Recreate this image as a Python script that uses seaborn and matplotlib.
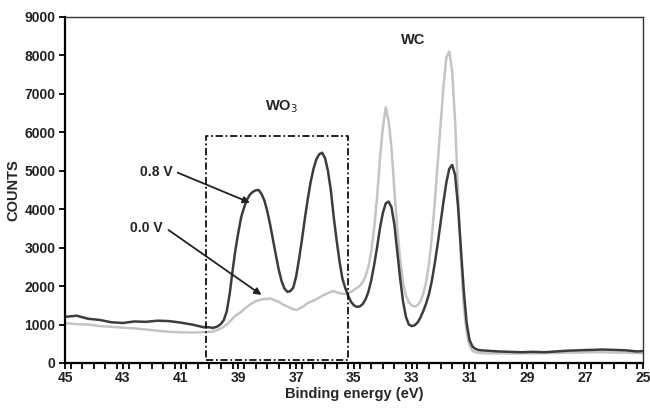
import numpy as np
import pandas as pd
import matplotlib
matplotlib.use("Agg")
import matplotlib.pyplot as plt
import seaborn as sns
from matplotlib.ticker import FixedLocator, MultipleLocator

energy_left = [45.0, 44.6, 44.2, 43.8, 43.4, 43.0, 42.6, 42.2, 41.8, 41.4, 41.0, 40.6, 40.2]
energy_mid = [40.0, 39.9, 39.8, 39.7, 39.6, 39.5, 39.4, 39.3, 39.2, 39.1,
              39.0, 38.9, 38.8, 38.7, 38.6, 38.5, 38.4, 38.3, 38.2, 38.1,
              38.0, 37.9, 37.8, 37.7, 37.6, 37.5, 37.4, 37.3, 37.2, 37.1,
              37.0, 36.9, 36.8, 36.7, 36.6, 36.5, 36.4, 36.3, 36.2, 36.1,
              36.0, 35.9, 35.8, 35.7, 35.6, 35.5, 35.4, 35.3, 35.2, 35.1,
              35.0, 34.9, 34.8, 34.7, 34.6, 34.5, 34.4, 34.3, 34.2, 34.1,
              34.0, 33.9, 33.8, 33.7, 33.6, 33.5, 33.4, 33.3, 33.2, 33.1,
              33.0, 32.9, 32.8, 32.7, 32.6, 32.5, 32.4, 32.3, 32.2, 32.1,
              32.0, 31.9, 31.8, 31.7, 31.6, 31.5, 31.4, 31.3, 31.2, 31.1,
              31.0, 30.9, 30.8, 30.7, 30.6]
energy_right = [30.4, 30.0, 29.6, 29.2, 28.8, 28.4, 28.0, 27.6, 27.2, 26.8, 26.4, 26.0, 25.6, 25.2, 25.0]

counts_08V_left = [1200, 1230, 1150, 1120, 1060, 1040, 1080, 1070, 1100, 1090, 1050, 1000, 930]
counts_08V_mid = [930, 910, 930, 960, 1020, 1120, 1350, 1800, 2400, 2950,
                  3400, 3800, 4050, 4250, 4380, 4450, 4490, 4500, 4400, 4230,
                  3950, 3600, 3200, 2800, 2420, 2120, 1930, 1850, 1870, 1960,
                  2250, 2700, 3200, 3750, 4250, 4700, 5050, 5300, 5430, 5470,
                  5330, 5000, 4500, 3800, 3200, 2650, 2200, 1950, 1750, 1590,
                  1500, 1460, 1470, 1530, 1650, 1850, 2150, 2550, 3000, 3500,
                  3900, 4150, 4200, 4050, 3600, 2900, 2200, 1600, 1200, 1000,
                  960, 980, 1050, 1180, 1350, 1550, 1800, 2150, 2600, 3100,
                  3650, 4200, 4700, 5050, 5150, 4900, 4100, 3000, 1900, 1050,
                  600, 430, 370, 340, 330]
counts_08V_right = [320, 300, 290, 280, 290, 280, 300, 320, 330, 340, 350, 340, 330, 300, 310]

counts_00V_left = [1040, 1010, 1000, 960, 940, 920, 900, 870, 840, 810, 800, 790, 800]
counts_00V_mid = [810, 815, 840, 870, 900, 950, 1000, 1080, 1150, 1230,
                  1280, 1330, 1400, 1460, 1520, 1560, 1610, 1630, 1650, 1670,
                  1660, 1680, 1650, 1620, 1590, 1540, 1500, 1470, 1430, 1400,
                  1380, 1410, 1450, 1500, 1560, 1590, 1620, 1660, 1700, 1750,
                  1780, 1820, 1850, 1870, 1840, 1820, 1800, 1800, 1810, 1850,
                  1900, 1950, 2000, 2100, 2250, 2500, 2900, 3500, 4300, 5300,
                  6100, 6650, 6300, 5600, 4500, 3500, 2700, 2100, 1750, 1580,
                  1500, 1470, 1500, 1600, 1800, 2100, 2600, 3300, 4200, 5200,
                  6200, 7200, 7950, 8100, 7600, 6300, 4500, 2800, 1500, 800,
                  450, 320, 280, 270, 260]
counts_00V_right = [250, 250, 245, 250, 250, 255, 260, 270, 270, 280, 280, 270, 270, 260, 250]

energy = energy_left + energy_mid + energy_right
df = pd.DataFrame({
    "energy": energy * 2,
    "counts": (counts_00V_left + counts_00V_mid + counts_00V_right)
              + (counts_08V_left + counts_08V_mid + counts_08V_right),
    "series": ["0.0 V"] * len(energy) + ["0.8 V"] * len(energy),
})

x_labels = [45, 43, 41, 39, 37, 35, 33, 31, 29, 27, 25]
y_ticks = [0, 1000, 2000, 3000, 4000, 5000, 6000, 7000, 8000, 9000]

sns.set_style("ticks")
plt.rcParams['font.family'] = ['Liberation Sans', 'DejaVu Sans']

fig = plt.figure(figsize=(6.5, 4.09), dpi=100)
ax = fig.add_axes([0.1, 0.1125, 0.889, 0.846])

sns.lineplot(data=df, x="energy", y="counts", hue="series",
             palette={"0.0 V": "#c4c4c4", "0.8 V": "#3c3c3c"},
             hue_order=["0.0 V", "0.8 V"], linewidth=1.8, ax=ax,
             legend=False, estimator=None)

ax.set_xlim(45, 25)
ax.set_ylim(0, 9000)
ax.xaxis.set_major_locator(FixedLocator(x_labels))
ax.xaxis.set_minor_locator(MultipleLocator(0.4))
ax.set_xticklabels([str(v) for v in x_labels])
ax.set_yticks(y_ticks)
ax.set_yticklabels([str(v) for v in y_ticks])
ax.tick_params(axis="x", which="both", bottom=True, top=False, direction="out",
               length=4, width=1.3, colors="black", labelsize=10, pad=2)
ax.tick_params(axis="y", which="both", left=True, right=False, direction="out",
               length=4, width=1.3, colors="black", labelsize=10, pad=3)
for lab in ax.get_xticklabels() + ax.get_yticklabels():
    lab.set_fontweight("bold")
    lab.set_color("#222222")

for side in ["left", "bottom"]:
    ax.spines[side].set_linewidth(1.6)
    ax.spines[side].set_color("black")
for side in ["top", "right"]:
    ax.spines[side].set_visible(True)
    ax.spines[side].set_linewidth(1.0)
    ax.spines[side].set_color("#333333")

ax.set_xlabel("Binding energy (eV)", fontsize=10.5, fontweight="bold", labelpad=1)
ax.set_ylabel("COUNTS", fontsize=10.5, fontweight="bold", labelpad=3)

# dash-dot box around the WO3 region
box_x = [40.13, 35.22, 35.22, 40.13, 40.13]
box_y = [80, 80, 5900, 5900, 80]
ax.plot(box_x, box_y, color="#111111", linewidth=1.3, linestyle=(0, (4, 1.5, 1, 1.5)))

ax.text(37.5, 6670, "WO$_3$", fontsize=10.5, fontweight="bold", ha="center", va="center", color="#222222")
ax.text(32.96, 8390, "WC", fontsize=10.5, fontweight="bold", ha="center", va="center", color="#222222")
ax.text(41.85, 4970, "0.8 V", fontsize=10, fontweight="bold", ha="center", va="center", color="#222222")
ax.text(42.2, 3520, "0.0 V", fontsize=10, fontweight="bold", ha="center", va="center", color="#222222")

ax.annotate("", xy=(38.6, 4170), xytext=(41.1, 4950),
            arrowprops=dict(arrowstyle="-|>", color="#222222", lw=1.3, mutation_scale=10,
                            shrinkA=0, shrinkB=0))
ax.annotate("", xy=(38.2, 1770), xytext=(41.42, 3460),
            arrowprops=dict(arrowstyle="-|>", color="#222222", lw=1.3, mutation_scale=10,
                            shrinkA=0, shrinkB=0))

fig.savefig("out.png", dpi=100)
